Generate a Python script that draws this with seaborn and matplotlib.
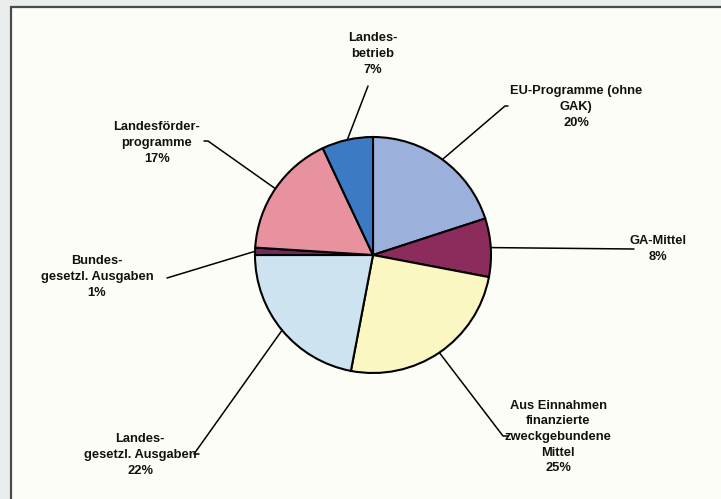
import matplotlib
matplotlib.use("Agg")
import matplotlib.pyplot as plt
import seaborn as sns
import numpy as np

# data (clockwise from 12 o'clock)
labels = ["EU-Programme (ohne\nGAK)", "GA-Mittel", "Aus Einnahmen\nfinanzierte\nzweckgebundene\nMittel",
          "Landes-\ngesetzl. Ausgaben", "Bundes-\ngesetzl. Ausgaben", "Landesförder-\nprogramme",
          "Landes-\nbetrieb"]
shares = [20, 8, 25, 22, 1, 17, 7]
colors = ["#9cb0dc", "#8c2c5c", "#fbf7c2", "#cde3f0", "#6e2c5e", "#e8929f", "#3d7ac4"]

sns.set_theme(style="white")
plt.rcParams["font.family"] = ["Liberation Sans", "DejaVu Sans"]

W, H = 721, 499
fig = plt.figure(figsize=(W / 100, H / 100), dpi=100, facecolor="#e9edee")
ax = fig.add_axes([0, 0, 1, 1])
ax.set_facecolor("none")

# framed background
ax.add_patch(plt.Rectangle((11, -5), 720, H - 7 + 5, facecolor="#fdfdf7",
                           edgecolor="#4a4a4a", linewidth=1.6, zorder=0))

cx, cy, r = 373, H - 255, 118
wedges, _ = ax.pie(shares, colors=colors, startangle=90, counterclock=False,
                   center=(cx, cy), radius=r,
                   wedgeprops=dict(edgecolor="black", linewidth=1.5))
ax.set_xlim(0, W)
ax.set_ylim(0, H)
ax.set_aspect("equal")
ax.axis("off")

# label layout: text center (x, y) in pixels from top, then leader points
layout = [
    ((576, 107), [(505, 106), (508, 106)]),
    ((658, 249), [(634, 249)]),
    ((558, 437), [(503, 436), (508, 436)]),
    ((140, 455), [(194, 454), (199, 454)]),
    ((97, 277), [(167, 278)]),
    ((157, 143), [(208, 141), (204, 141)]),
    ((373, 54), [(368, 86)]),
]

for w, lab, val, (tpos, pts) in zip(wedges, labels, shares, layout):
    ang = np.deg2rad((w.theta1 + w.theta2) / 2)
    ex, ey = cx + r * np.cos(ang), cy + r * np.sin(ang)
    xs = [ex] + [p[0] for p in pts]
    ys = [ey] + [H - p[1] for p in pts]
    ax.plot(xs, ys, color="black", linewidth=1.1, zorder=1)
    ax.text(tpos[0], H - tpos[1], f"{lab}\n{val}%", ha="center", va="center",
            fontsize=9.3, fontweight="bold", linespacing=1.4, color="#111111")

plt.savefig("out.png", dpi=100, facecolor=fig.get_facecolor())
